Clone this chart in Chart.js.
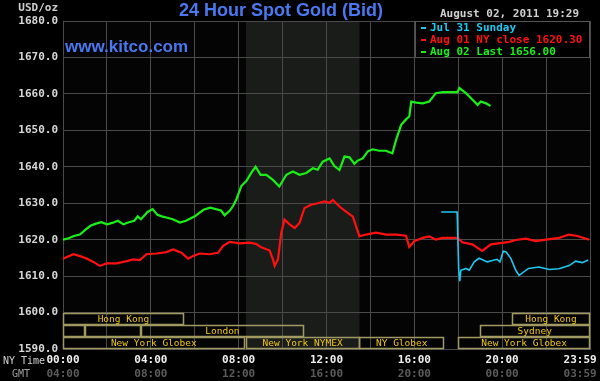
<!DOCTYPE html>
<html>
<head>
<meta charset="utf-8">
<script src="https://cdn.jsdelivr.net/npm/chart.js@4.4.1/dist/chart.umd.min.js"></script>
<style>
html, body { margin: 0; padding: 0; background: #000; }
canvas { display: block; }
</style>
</head>
<body>
<canvas id="chart-gold" width="600" height="381"></canvas>
<script>
// times are NY time in hours, prices in USD/oz
var sundayHours = [17.23, 17.95, 18.02, 18.07, 18.12, 18.35, 18.5, 18.73, 18.95, 19.32, 19.77, 19.9, 20.05, 20.18, 20.4, 20.62, 20.77, 21.2, 21.68, 22.14, 22.59, 23.05, 23.35, 23.65, 23.92];
var sundayPrices = [1627.6, 1627.6, 1612.0, 1608.6, 1611.6, 1612.1, 1611.6, 1613.9, 1614.9, 1613.9, 1614.6, 1613.9, 1616.8, 1616.6, 1614.8, 1611.6, 1610.2, 1612.1, 1612.5, 1611.8, 1612.0, 1612.9, 1614.1, 1613.7, 1614.4];

var mondayHours = [0, 0.47, 0.77, 1.08, 1.38, 1.68, 1.99, 2.44, 2.9, 3.2, 3.5, 3.8, 4.26, 4.71, 5.02, 5.39, 5.7, 5.92, 6.23, 6.68, 7.06, 7.29, 7.6, 8.05, 8.5, 8.8, 9.03, 9.41, 9.56, 9.64, 9.79, 9.94, 10.09, 10.32, 10.55, 10.77, 11.0, 11.3, 11.6, 11.9, 12.14, 12.29, 12.59, 12.89, 13.2, 13.35, 13.5, 13.8, 14.26, 14.71, 15.17, 15.62, 15.77, 16.0, 16.38, 16.68, 16.98, 17.29, 17.97, 18.18, 18.64, 19.09, 19.49, 20.0, 20.32, 20.62, 21.08, 21.53, 21.99, 22.59, 23.05, 23.42, 23.95];
var mondayPrices = [1614.8, 1616.0, 1615.5, 1614.8, 1613.9, 1612.8, 1613.5, 1613.5, 1614.1, 1614.6, 1614.4, 1616.0, 1616.2, 1616.6, 1617.3, 1616.4, 1614.8, 1615.5, 1616.2, 1616.0, 1616.4, 1618.3, 1619.4, 1619.0, 1619.2, 1618.8, 1617.9, 1617.0, 1614.6, 1612.8, 1614.6, 1621.9, 1625.5, 1624.2, 1623.2, 1624.6, 1628.7, 1629.6, 1630.0, 1630.5, 1630.1, 1630.9, 1629.1, 1627.7, 1626.3, 1623.6, 1620.9, 1621.4, 1621.9, 1621.4, 1621.4, 1621.1, 1618.0, 1619.6, 1620.5, 1620.9, 1620.0, 1620.5, 1620.5, 1619.3, 1618.7, 1616.9, 1618.7, 1619.1, 1619.4, 1619.9, 1620.3, 1619.6, 1620.0, 1620.5, 1621.4, 1621.0, 1620.0];

var tuesdayHours = [0, 0.25, 0.5, 0.77, 1.0, 1.25, 1.5, 1.75, 2.0, 2.25, 2.5, 2.75, 3.0, 3.25, 3.4, 3.55, 3.85, 4.08, 4.3, 4.5, 4.75, 5.0, 5.33, 5.6, 6.0, 6.4, 6.7, 7.2, 7.36, 7.6, 7.75, 7.9, 8.12, 8.35, 8.58, 8.77, 9.0, 9.26, 9.56, 9.85, 10.17, 10.47, 10.77, 11.08, 11.38, 11.6, 11.83, 12.14, 12.36, 12.59, 12.82, 13.05, 13.27, 13.42, 13.65, 13.88, 14.1, 14.4, 14.7, 15.0, 15.17, 15.4, 15.62, 15.77, 15.86, 16.08, 16.38, 16.68, 16.98, 17.29, 17.97, 18.05, 18.35, 18.65, 18.88, 19.03, 19.26, 19.47];
var tuesdayPrices = [1620.0, 1620.4, 1621.0, 1621.4, 1622.6, 1623.8, 1624.4, 1624.8, 1624.2, 1624.6, 1625.2, 1624.2, 1624.8, 1625.2, 1626.4, 1625.6, 1627.6, 1628.4, 1626.8, 1626.4, 1626.0, 1625.6, 1624.7, 1625.2, 1626.4, 1628.2, 1628.8, 1628.0, 1626.7, 1628.0, 1629.3, 1631.1, 1634.7, 1636.1, 1638.4, 1640.0, 1637.8, 1637.8, 1636.4, 1634.6, 1637.8, 1638.7, 1637.8, 1638.3, 1639.6, 1639.2, 1641.4, 1642.3, 1640.2, 1639.1, 1642.8, 1642.6, 1640.8, 1641.7, 1642.3, 1644.2, 1644.8, 1644.4, 1644.4, 1643.7, 1647.4, 1651.5, 1653.0, 1653.8, 1657.9, 1657.6, 1657.4, 1657.9, 1660.2, 1660.5, 1660.5, 1661.6, 1660.2, 1658.4, 1657.0, 1657.9, 1657.4, 1656.7];

var seriesLabels = ['Jul 31 Sunday', 'Aug 01 NY close 1620.30', 'Aug 02 Last 1656.00'];
var seriesColors = ['#1ec8f0', '#ff1010', '#18f018'];

// trading sessions: row 0 = top strip
var sessionLabels = ['Hong Kong', 'Hong Kong', '', '', 'London', 'Sydney', 'New York Globex', 'New York NYMEX', 'NY Globex', 'New York Globex'];
var sessionStart = [0, 20.45, 0, 1, 3.55, 18.97, 0, 8.32, 13.5, 18.0];
var sessionEnd = [5.5, 24, 1, 3.55, 10.97, 24, 8.27, 13.5, 17.35, 24];
var sessionRow = [0, 0, 1, 1, 1, 1, 2, 2, 2, 2];

var nymexStart = 8.33, nymexEnd = 13.5;
var yTicks = [1590, 1600, 1610, 1620, 1630, 1640, 1650, 1660, 1670, 1680];

function toPoints(xs, ys){
    var pts = [];
    for (var i = 0; i < xs.length; i++) pts.push({x: xs[i], y: ys[i]});
    return pts;
}

function hourLabel(v, shift, last){
    if (v === 24) return last + '   ';
    if (v % 4 !== 0) return '';
    var h = (v + shift) % 24;
    return (h < 10 ? '0' : '') + h + ':00';
}

var mono = '"DejaVu Sans Mono", monospace';

var backdrop = {
    id: 'backdrop',
    beforeDraw: function(chart){
        var c = chart.ctx, a = chart.chartArea, x = chart.scales.x;
        c.save();
        c.fillStyle = '#000';
        c.fillRect(0, 0, chart.width, chart.height);
        c.fillStyle = '#040404';
        c.fillRect(a.left, a.top, a.right - a.left, a.bottom - a.top);
        var x0 = x.getPixelForValue(nymexStart), x1 = x.getPixelForValue(nymexEnd);
        c.fillStyle = '#1a1c1a';
        c.fillRect(x0, a.top, x1 - x0, a.bottom - a.top);
        c.restore();
    }
};

var overlay = {
    id: 'overlay',
    afterDraw: function(chart){
        var c = chart.ctx, x = chart.scales.x, y = chart.scales.y;
        c.save();

        // session strips
        var rowH = (yTicks[1] - yTicks[0]) / 3;
        c.font = '9.5px ' + mono;
        c.textAlign = 'center';
        c.textBaseline = 'middle';
        for (var i = 0; i < sessionLabels.length; i++){
            var top = y.getPixelForValue(yTicks[1] - sessionRow[i] * rowH);
            var bot = y.getPixelForValue(yTicks[1] - (sessionRow[i] + 1) * rowH);
            var l = x.getPixelForValue(sessionStart[i]), r = x.getPixelForValue(sessionEnd[i]);
            c.strokeStyle = '#a09a62';
            c.lineWidth = 1.5;
            c.strokeRect(Math.round(l) + 0.5, Math.round(top) + 0.5, Math.round(r - l) - 1, Math.round(bot - top) - 1);
            if (sessionLabels[i]){
                c.fillStyle = '#f0c810';
                c.fillText(sessionLabels[i], (l + r) / 2, (top + bot) / 2 + 1);
            }
        }

        // title and site
        c.textAlign = 'center';
        c.fillStyle = '#4a78f0';
        c.font = 'bold 18px "Liberation Sans", Arial, sans-serif';
        c.fillText('24 Hour Spot Gold (Bid)', 281, 11);
        c.textAlign = 'left';
        c.font = 'bold 17px "Liberation Sans", Arial, sans-serif';
        c.fillText('www.kitco.com', 65, 47);

        // small texts
        c.font = 'bold 11px ' + mono;
        c.fillStyle = '#d0d0d0';
        c.textAlign = 'right';
        c.fillText('USD/oz', 58, 8);
        c.fillText('August 02, 2011 19:29', 579, 14);
        c.font = '10px ' + mono;
        c.textAlign = 'left';
        c.fillText('NY Time', 3, 361);
        c.fillStyle = '#a0a0a0';
        c.fillText('GMT', 12, 374);

        // legend box
        c.fillStyle = '#000';
        c.fillRect(415, 21, 175, 37);
        c.strokeStyle = '#555';
        c.lineWidth = 1;
        c.strokeRect(415.5, 21.5, 174, 36);
        c.font = 'bold 11px ' + mono;
        for (var k = 0; k < seriesLabels.length; k++){
            var ly = 28 + k * 12;
            c.fillStyle = seriesColors[k];
            c.fillRect(421, ly - 1, 5, 2);
            c.fillText(seriesLabels[k], 430, ly);
        }
        c.restore();
    }
};

var ctx = document.getElementById('chart-gold').getContext('2d');
var chart = new Chart(ctx, {
    type: 'line',
    data: {
        datasets: [{
            label: seriesLabels[0],
            data: toPoints(sundayHours, sundayPrices),
            borderColor: seriesColors[0],
            borderWidth: 1.6
        }, {
            label: seriesLabels[1],
            data: toPoints(mondayHours, mondayPrices),
            borderColor: seriesColors[1],
            borderWidth: 2.2
        }, {
            label: seriesLabels[2],
            data: toPoints(tuesdayHours, tuesdayPrices),
            borderColor: seriesColors[2],
            borderWidth: 2.2
        }]
    },
    options: {
        responsive: false,
        animation: false,
        devicePixelRatio: 1,
        layout: { padding: { top: 21, right: 10, left: 0, bottom: 0 } },
        elements: { point: { radius: 0 }, line: { tension: 0 } },
        plugins: { legend: { display: false }, tooltip: { enabled: false } },
        scales: {
            x: {
                type: 'linear', min: 0, max: 24, weight: 0,
                grid: { color: '#4a4a4a', drawTicks: false },
                border: { color: '#4a4a4a' },
                ticks: {
                    stepSize: 2, autoSkip: false, maxRotation: 0, padding: 5,
                    color: '#f0f0f0', font: { family: mono, size: 11, weight: 'bold' },
                    callback: function(v){ return hourLabel(v, 0, '23:59'); }
                },
                afterFit: function(s){ s.height = 16; s.paddingLeft = 0; s.paddingRight = 0; }
            },
            x2: {
                type: 'linear', position: 'bottom', min: 0, max: 24, weight: 1,
                grid: { display: false, drawTicks: false },
                border: { display: false },
                ticks: {
                    stepSize: 2, autoSkip: false, maxRotation: 0, padding: 3,
                    color: '#5c5c5c', font: { family: mono, size: 11, weight: 'bold' },
                    callback: function(v){ return hourLabel(v, 4, '03:59'); }
                },
                afterFit: function(s){ s.height = 16; s.paddingLeft = 0; s.paddingRight = 0; }
            },
            y: {
                min: yTicks[0], max: yTicks[yTicks.length - 1],
                grid: { color: '#4a4a4a', drawTicks: false },
                border: { color: '#4a4a4a' },
                afterBuildTicks: function(s){ s.ticks = yTicks.map(function(v){ return {value: v}; }); },
                ticks: {
                    padding: 5, color: '#d8d8d8',
                    font: { family: mono, size: 11, weight: 'bold' },
                    callback: function(v){ return v.toFixed(1); }
                },
                afterFit: function(s){ s.width = 63; s.paddingTop = 0; s.paddingBottom = 0; }
            }
        }
    },
    plugins: [backdrop, overlay]
});
</script>
</body>
</html>
